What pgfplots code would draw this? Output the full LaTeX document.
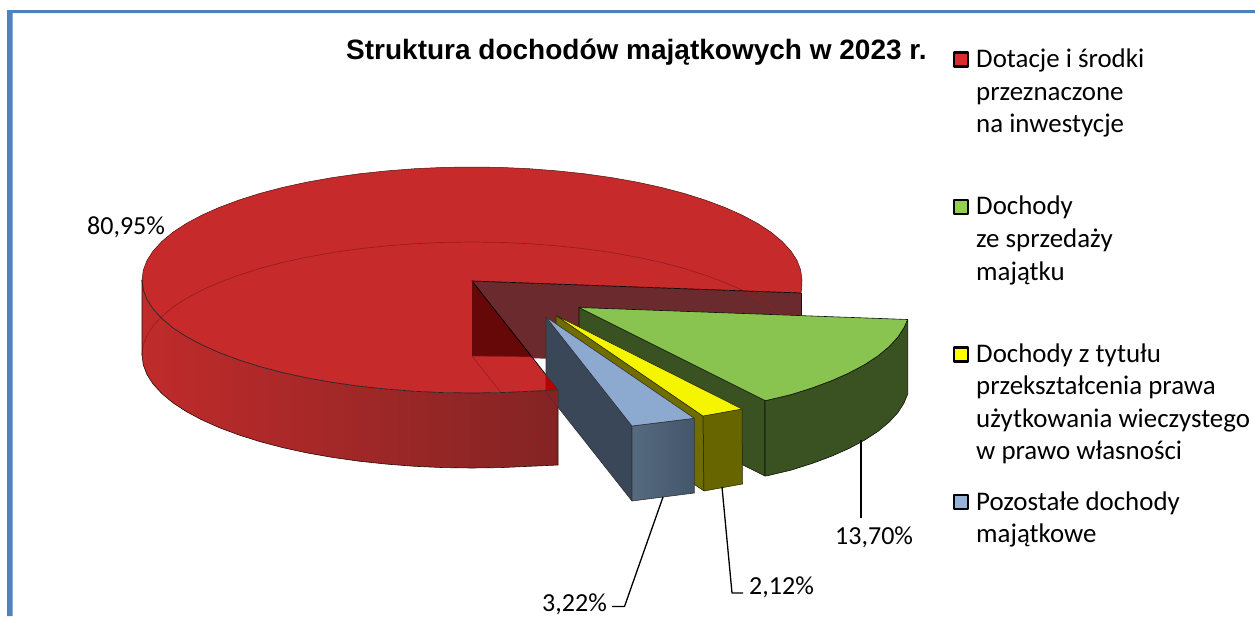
\documentclass[border=0pt]{standalone}
\usepackage{pgfplots}
\pgfplotsset{compat=1.18}
\usepackage{fontspec}
\setmainfont{Carlito}
\newfontfamily\titlefont[Ligatures=TeX]{Liberation Sans}
\definecolor{frameblue}{HTML}{4F81BD}
\definecolor{redtop}{HTML}{C72A2A}
\definecolor{redwallL}{HTML}{C02B2B}
\definecolor{redwallR}{HTML}{832424}
\definecolor{maroon}{HTML}{6B2A2D}
\definecolor{darkred}{HTML}{660808}
\definecolor{redline}{HTML}{9A1C22}
\definecolor{greentop}{HTML}{88C44F}
\definecolor{greenside}{HTML}{3A5221}
\definecolor{yellowtop}{HTML}{F5F500}
\definecolor{yellowfront}{HTML}{676500}
\definecolor{yellowside}{HTML}{6F6C00}
\definecolor{bluetop}{HTML}{8CA9D0}
\definecolor{blueside}{HTML}{3A4758}
\definecolor{bluefrontL}{HTML}{566A80}
\definecolor{bluefrontR}{HTML}{43566A}
\definecolor{legred}{HTML}{DA2C2C}
\definecolor{leggreen}{HTML}{92D050}
\definecolor{legyellow}{HTML}{FFFF00}
\definecolor{legblue}{HTML}{95B3D7}
\begin{document}
\begin{tikzpicture}
\path[use as bounding box] (0,0) rectangle (1255pt,616pt);
\begin{axis}[
  at={(0,0)}, anchor=south west,
  scale only axis, width=1255pt, height=616pt,
  xmin=0, xmax=1255, ymin=0, ymax=616, y dir=reverse,
  axis lines=none, clip=true,
  every axis plot/.append style={line join=round}
]
% frame
\addplot[fill=frameblue, draw=none] coordinates {(7,10)(1255,10)(1255,13)(12.5,13)(12.5,616)(7,616)} -- cycle;
% red slice: inner wall behind the top face
\addplot[fill=maroon, draw=none] coordinates {(472,281)(801,293)(801,368)(472,356)} -- cycle;
% red slice: top face
\addplot[fill=redtop, draw=none] coordinates {
 (472,281)(558,390)(529.3,391.3)(500.8,392.6)(472,393)(443.2,392.6)(414.7,391.3)(386.6,389.1)(359.1,386.2)(332.5,382.4)(307,377.9)(282.7,372.6)(259.9,366.6)(238.7,359.9)(219.2,352.6)(201.7,344.8)(186.2,336.5)(172.9,327.8)(161.9,318.6)(153.2,309.2)(147,299.6)(143.3,289.9)(142,280)
 (143.3,270.1)(147,260.4)(153.2,250.8)(161.9,241.4)(172.9,232.2)(186.2,223.5)(201.7,215.2)(219.2,207.4)(238.7,200.1)(259.9,193.4)(282.7,187.4)(307,182.1)(332.5,177.6)(359.1,173.8)(386.6,170.9)(414.7,168.7)(443.2,167.4)(472,167)(500.8,167.4)(529.3,168.7)(557.4,170.9)(584.9,173.8)(611.5,177.6)(637,182.1)(661.3,187.4)(684.1,193.4)(705.3,200.1)(724.8,207.4)(742.3,215.2)(757.8,223.5)(771.1,232.2)(782.1,241.4)(790.8,250.8)(797,260.4)(800.7,270.1)(802,280)(801.6,289)(801,293)
} -- cycle;
% back rim, thin
\addplot[draw=black!60!redtop, line width=0.5pt] coordinates {
 (143.3,289.9)(142,280)(143.3,270.1)(147,260.4)(153.2,250.8)(161.9,241.4)(172.9,232.2)(186.2,223.5)(201.7,215.2)(219.2,207.4)(238.7,200.1)(259.9,193.4)(282.7,187.4)(307,182.1)(332.5,177.6)(359.1,173.8)(386.6,170.9)(414.7,168.7)(443.2,167.4)(472,167)(500.8,167.4)(529.3,168.7)(557.4,170.9)(584.9,173.8)(611.5,177.6)(637,182.1)(661.3,187.4)(684.1,193.4)(705.3,200.1)(724.8,207.4)(742.3,215.2)(757.8,223.5)(771.1,232.2)(782.1,241.4)(790.8,250.8)(797,260.4)(800.7,270.1)(802,280)(801.6,289)(801,293)};
% inner wall seen through the top face
\addplot[fill=darkred, draw=none] coordinates {(472,281)(532.5,357)(472,356)} -- cycle;
% outer wall of red slice
\addplot[left color=redwallL, right color=redwallR, draw=none] coordinates {
 (142,280)(143.3,289.9)(147,299.6)(153.2,309.2)(161.9,318.6)(172.9,327.8)(186.2,336.5)(201.7,344.8)(219.2,352.6)(238.7,359.9)(259.9,366.6)(282.7,372.6)(307,377.9)(332.5,382.4)(359.1,386.2)(386.6,389.1)(414.7,391.3)(443.2,392.6)(472,393)(500.8,392.6)(529.3,391.3)(558,390)
 (558,465)(529.3,466.3)(500.8,467.6)(472,468)(443.2,467.6)(414.7,466.3)(386.6,464.1)(359.1,461.2)(332.5,457.4)(307,452.9)(282.7,447.6)(259.9,441.6)(238.7,434.9)(219.2,427.6)(201.7,419.8)(186.2,411.5)(172.9,402.8)(161.9,393.6)(153.2,384.2)(147,374.6)(143.3,364.9)(142,355)
} -- cycle;
% lines of the base seen through
\addplot[draw=redline, line width=0.7pt] coordinates {
 (142,355)(143.3,345.1)(147,335.4)(153.2,325.8)(161.9,316.4)(172.9,307.2)(186.2,298.5)(201.7,290.2)(219.2,282.4)(238.7,275.1)(259.9,268.4)(282.7,262.4)(307,257.1)(332.5,252.6)(359.1,248.8)(386.6,245.9)(414.7,243.7)(443.2,242.4)(472,242)(500.8,242.4)(529.3,243.7)(557.4,245.9)(584.9,248.8)(611.5,252.6)(637,257.1)(661.3,262.4)(684.1,268.4)(705.3,275.1)(724.8,282.4)(742.3,290.2)(757.8,298.5)(771.1,307.2)(782.1,316.4)};
\addplot[draw=redline, line width=0.6pt] coordinates {(472,356)(558,465)};
\addplot[draw=redline, line width=0.6pt] coordinates {(472,356)(533,357)};
% edges of red slice
\addplot[draw=black!85, line width=0.7pt] coordinates {
 (142,280)(143.3,289.9)(147,299.6)(153.2,309.2)(161.9,318.6)(172.9,327.8)(186.2,336.5)(201.7,344.8)(219.2,352.6)(238.7,359.9)(259.9,366.6)(282.7,372.6)(307,377.9)(332.5,382.4)(359.1,386.2)(386.6,389.1)(414.7,391.3)(443.2,392.6)(472,393)(500.8,392.6)(529.3,391.3)(558,390)};
\addplot[draw=black!70!redwallR, line width=0.6pt] coordinates {
 (558,390)(558,465)(529.3,466.3)(500.8,467.6)(472,468)(443.2,467.6)(414.7,466.3)(386.6,464.1)(359.1,461.2)(332.5,457.4)(307,452.9)(282.7,447.6)(259.9,441.6)(238.7,434.9)(219.2,427.6)(201.7,419.8)(186.2,411.5)(172.9,402.8)(161.9,393.6)(153.2,384.2)(147,374.6)(143.3,364.9)(142,355)(142,280)};
\addplot[draw=black, line width=0.7pt] coordinates {(558,390)(472,281)(801,293)};
\addplot[draw=darkred, line width=0.5pt] coordinates {(472,281)(472,356)};
\addplot[draw=black!70!maroon, line width=0.5pt] coordinates {(801,293)(801,368)};
% green slice
\addplot[fill=greenside, draw=black!80!greenside, line width=0.6pt] coordinates {(579,307.5)(765,400.5)(765,476)(579,383)} -- cycle;
\addplot[fill=greenside, draw=black!80!greenside, line width=0.6pt] coordinates {
 (907.7,319.5)(904,327.6)(897.8,337.2)(889.1,346.6)(878.1,355.8)(864.8,364.5)(849.3,372.8)(831.8,380.6)(812.3,387.9)(791.1,394.6)(768.3,400)(765,400.5)
 (765,476)(768.3,475.5)(791.1,470.1)(812.3,463.4)(831.8,456.1)(849.3,448.3)(864.8,440)(878.1,431.3)(889.1,422.1)(897.8,412.7)(904,403.1)(907.7,394)} -- cycle;
\addplot[fill=greentop, draw=black!80!greenside, line width=0.6pt] coordinates {
 (579,307.5)(907.7,319.5)(904,327.6)(897.8,337.2)(889.1,346.6)(878.1,355.8)(864.8,364.5)(849.3,372.8)(831.8,380.6)(812.3,387.9)(791.1,394.6)(768.3,400)(765,400.5)} -- cycle;
% yellow slice
\addplot[fill=yellowside, draw=black!70!yellowside, line width=0.5pt] coordinates {(556,315.5)(703,416)(704,491)(556,391)} -- cycle;
\addplot[fill=yellowfront, draw=black!70!yellowside, line width=0.5pt] coordinates {(703,416)(742,409)(742.5,484)(704,491)} -- cycle;
\addplot[fill=yellowtop, draw=black!70!yellowside, line width=0.5pt] coordinates {(556,315.5)(742,409)(703,416)} -- cycle;
% blue slice
\addplot[fill=blueside, draw=black!80, line width=0.6pt] coordinates {(546,317)(632,426)(632,501)(546,392)} -- cycle;
\addplot[left color=bluefrontL, right color=bluefrontR, draw=black!80, line width=0.6pt] coordinates {(632,426)(694.3,418.3)(694.3,493)(632,501)} -- cycle;
\addplot[fill=bluetop, draw=black!80, line width=0.6pt] coordinates {(546,317)(694.3,418.3)(632,426)} -- cycle;
% red seen over the blue wall
\addplot[fill=red!72!black, draw=none] coordinates {(546,375)(558,390)(546,391)} -- cycle;
\addplot[fill=redwallR, draw=none] coordinates {(546,391)(558,390)(558,407)(546,392)} -- cycle;
\addplot[draw=black!80, line width=0.5pt] coordinates {(546,375)(558,390)(558,407)};
\addplot[draw=black!80, line width=0.5pt] coordinates {(546,391)(558,390)};
% leaders
\addplot[draw=black, line width=1.3pt] coordinates {(861,440)(861,518)};
\addplot[draw=black, line width=1.3pt] coordinates {(722,487)(732,593)(743,593)};
\addplot[draw=black, line width=1.3pt] coordinates {(663,497)(624.5,606.5)(612,606.5)};
% legend keys
\addplot[only marks, mark=square*, mark size=7pt, mark options={fill=legred, draw=black, line width=2.4pt}] coordinates {(961,59.5)};
\addplot[only marks, mark=square*, mark size=7pt, mark options={fill=leggreen, draw=black, line width=2.4pt}] coordinates {(961,207)};
\addplot[only marks, mark=square*, mark size=7pt, mark options={fill=legyellow, draw=black, line width=2.4pt}] coordinates {(961,354.5)};
\addplot[only marks, mark=square*, mark size=7pt, mark options={fill=legblue, draw=black, line width=2.4pt}] coordinates {(961,502)};
% title
\node[anchor=base west, inner sep=0pt, font={\titlefont\bfseries\fontsize{28}{30}\selectfont}] at (axis cs:346,59) {Struktura dochodów majątkowych w 2023 r.};
% legend text and labels
\tikzset{lab/.style={anchor=base west, inner sep=0pt, font={\fontsize{26.9}{30}\selectfont}, text=black},
         pct/.style={anchor=base west, inner sep=0pt, font={\fontsize{26}{30}\selectfont}, text=black}}
\node[lab] at (axis cs:976,67) {Dotacje i środki};
\node[lab] at (axis cs:976,100) {przeznaczone};
\node[lab] at (axis cs:976,132) {na inwestycje};
\node[lab] at (axis cs:976,214) {Dochody};
\node[lab] at (axis cs:976,247) {ze sprzedaży};
\node[lab] at (axis cs:976,280) {majątku};
\node[lab] at (axis cs:976,362) {Dochody z tytułu};
\node[lab] at (axis cs:976,394) {przekształcenia prawa};
\node[lab] at (axis cs:976,427) {użytkowania wieczystego};
\node[lab] at (axis cs:976,459) {w prawo własności};
\node[lab] at (axis cs:976,510) {Pozostałe dochody};
\node[lab] at (axis cs:976,542) {majątkowe};
\node[pct] at (axis cs:87,234) {80,95\%};
\node[pct] at (axis cs:835,544) {13,70\%};
\node[pct] at (axis cs:749,594) {2,12\%};
\node[pct] at (axis cs:542,611.5) {3,22\%};
\end{axis}
\end{tikzpicture}
\end{document}
